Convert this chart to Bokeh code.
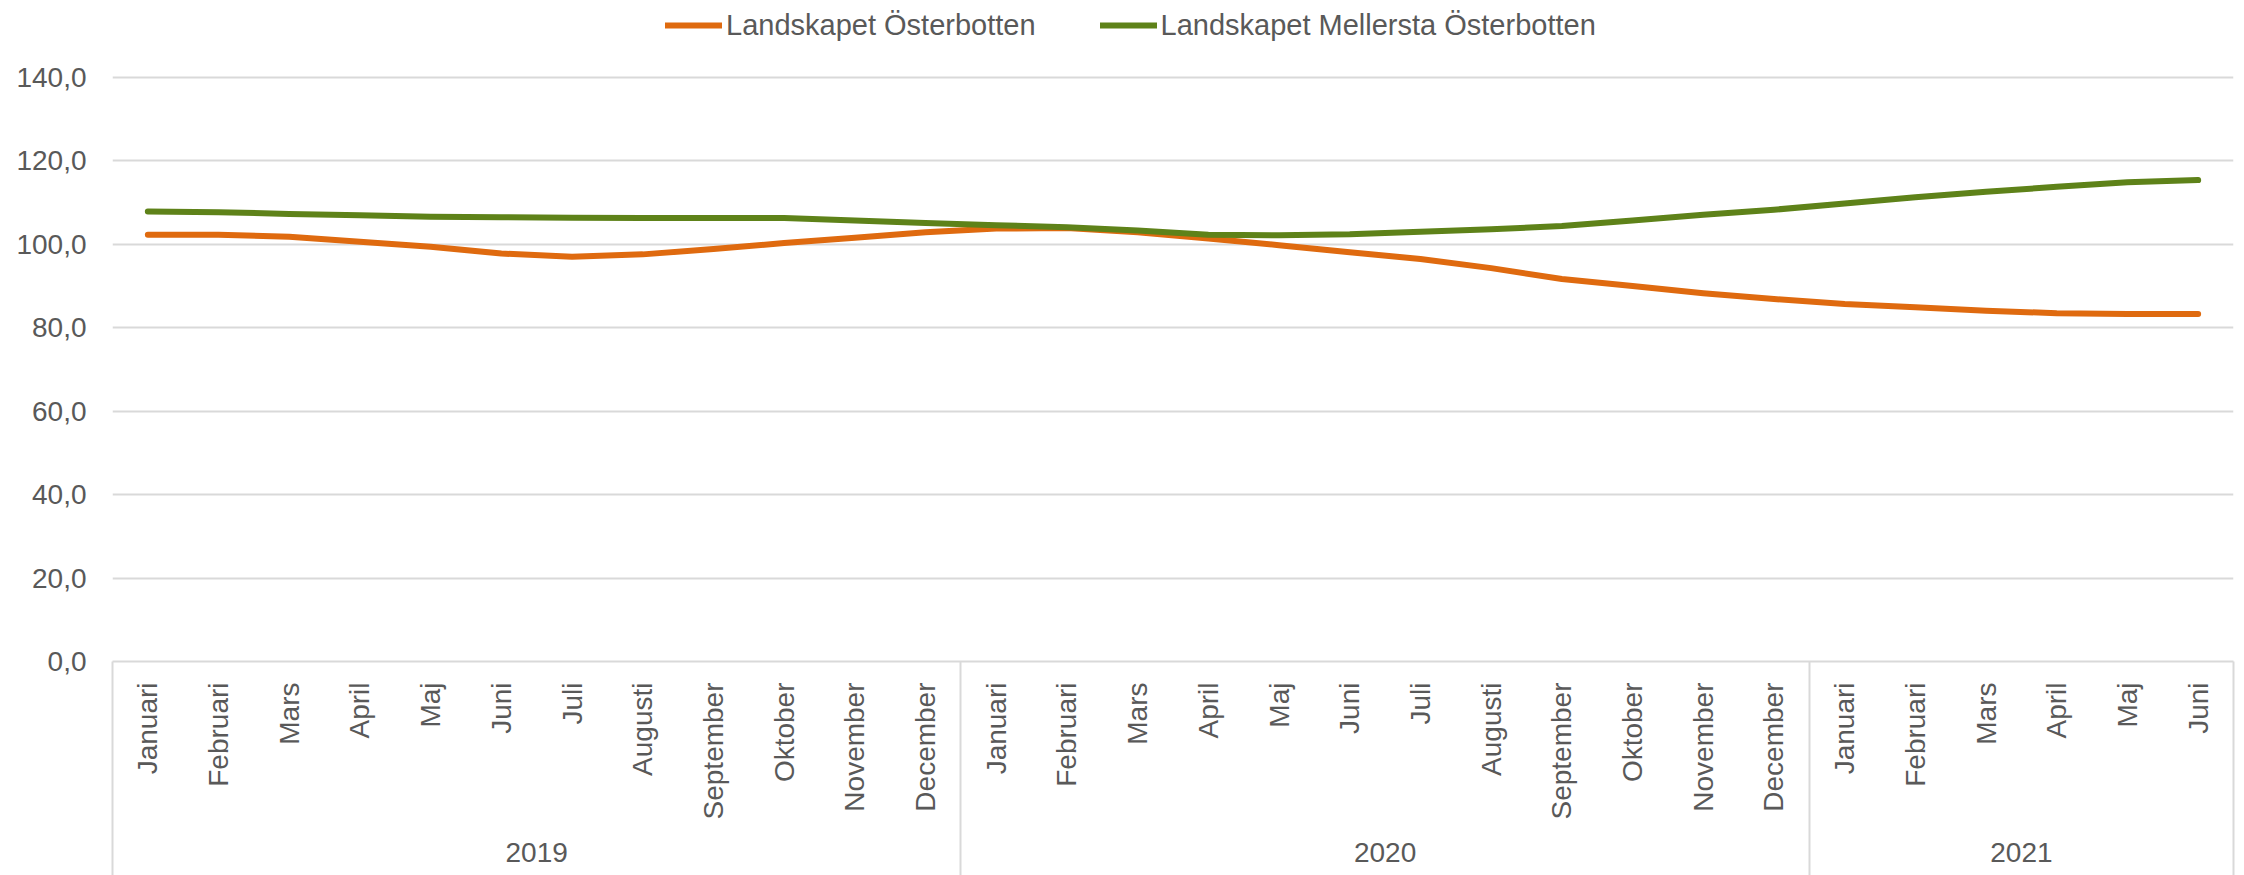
import math
from bokeh.plotting import figure
from bokeh.models import (FactorRange, Range1d, FixedTicker, Legend, LegendItem,
                          ColumnDataSource, LinearAxis)
from bokeh.embed import file_html
from bokeh.resources import INLINE

# ---- data ----
years = ["2019", "2020", "2021"]
months_per_year = [12, 12, 6]
months = ["Januari", "Februari", "Mars", "April", "Maj", "Juni", "Juli",
          "Augusti", "September", "Oktober", "November", "December"]
series_names = ["Landskapet Österbotten", "Landskapet Mellersta Österbotten"]
osterbotten = [102.3, 102.3, 101.8, 100.6, 99.4, 97.8, 97.0, 97.6, 98.9, 100.3, 101.6, 102.9,
               103.8, 103.9, 102.9, 101.4, 99.8, 98.1, 96.5, 94.3, 91.7, 90.0, 88.3, 86.9,
               85.7, 84.9, 84.1, 83.5, 83.3, 83.3]
mellersta = [107.9, 107.7, 107.3, 107.0, 106.6, 106.5, 106.4, 106.3, 106.3, 106.3, 105.7, 105.1,
             104.6, 104.1, 103.3, 102.3, 102.2, 102.4, 103.0, 103.6, 104.4, 105.7, 107.1, 108.3,
             109.8, 111.3, 112.6, 113.8, 114.9, 115.4]
y_ticks = [0, 20, 40, 60, 80, 100, 120, 140]
y_tick_labels = ["0,0", "20,0", "40,0", "60,0", "80,0", "100,0", "120,0", "140,0"]

# ---- style / layout ----
ORANGE = "#DF6A0F"
GREEN = "#5E8219"
TEXT = "#595959"
GRID = "#D9D9D9"
FONT = "Liberation Sans"
FS = "28px"
BOTTOM_AREA = 214      # space under the plot area (month + year labels)
CAT_AXIS = 204         # height taken by the month/year axis
TOP_BORDER = 4
Y_TOP = 157.5          # frame reaches up over the legend; grid stops at 140

factors = [(yr, months[m]) for yr, n in zip(years, months_per_year) for m in range(n)]
x_range = FactorRange(factors=factors, factor_padding=0, group_padding=0,
                      subgroup_padding=0, range_padding=0)

p = figure(x_range=x_range, y_range=Range1d(0, Y_TOP), width=2244, height=875,
           output_backend="svg", toolbar_location=None,
           min_border_left=112, min_border_right=11, min_border_top=TOP_BORDER,
           min_border_bottom=BOTTOM_AREA)
p.outline_line_color = None
p.background_fill_color = "white"
p.border_fill_color = "white"

src = ColumnDataSource(dict(x=factors, o=osterbotten, m=mellersta))
r1 = p.line("x", "o", source=src, line_color=ORANGE, line_width=6,
            line_cap="round", line_join="round")
r2 = p.line("x", "m", source=src, line_color=GREEN, line_width=6,
            line_cap="round", line_join="round")

# category axis (months + years)
xa = p.xaxis[0]
xa.major_label_orientation = math.pi / 2
xa.major_label_text_font = FONT
xa.major_label_text_font_size = FS
xa.major_label_text_color = TEXT
xa.major_label_standoff = 21
xa.group_text_font = FONT
xa.group_text_font_size = FS
xa.group_text_color = TEXT
xa.group_text_font_style = "normal"
xa.group_label_orientation = "horizontal"
xa.separator_line_color = None
xa.major_tick_line_color = None
xa.major_tick_in = 0
xa.major_tick_out = 0
xa.minor_tick_line_color = None
xa.axis_line_color = GRID
xa.axis_line_width = 2
p.xgrid.visible = False

# year separators: a second axis under the labels whose ticks, placed at the
# year boundaries (factor-range units), reach up to the plot area
bounds = [0]
for n in months_per_year:
    bounds.append(bounds[-1] + n)
sep = LinearAxis(ticker=FixedTicker(ticks=bounds),
                 major_tick_in=CAT_AXIS, major_tick_out=BOTTOM_AREA - CAT_AXIS,
                 major_tick_line_color=GRID, major_tick_line_width=2,
                 minor_tick_line_color=None, axis_line_color=None,
                 major_label_text_color=None, major_label_standoff=0)
p.add_layout(sep, "below")

# value axis
ya = p.yaxis[0]
ya.ticker = FixedTicker(ticks=y_ticks)
ya.major_label_overrides = dict(zip(y_ticks, y_tick_labels))
ya.major_label_text_font = FONT
ya.major_label_text_font_size = FS
ya.major_label_text_color = TEXT
ya.axis_line_color = None
ya.major_tick_line_color = None
ya.major_tick_in = 0
ya.major_tick_out = 0
ya.minor_tick_line_color = None
ya.major_label_standoff = 26
p.ygrid.ticker = FixedTicker(ticks=y_ticks)
p.ygrid.grid_line_color = GRID
p.ygrid.grid_line_width = 2

legend = Legend(items=[LegendItem(label=series_names[0], renderers=[r1]),
                       LegendItem(label=series_names[1], renderers=[r2])],
                orientation="horizontal", location=(553, 619),
                glyph_width=57, glyph_height=34, label_height=34, label_width=10,
                label_standoff=4, spacing=64, padding=0, margin=0,
                border_line_color=None, background_fill_alpha=0,
                label_text_font=FONT, label_text_font_size="29px", label_text_color=TEXT)
p.add_layout(legend, "center")

open("out.html", "w").write(file_html(p, INLINE))
